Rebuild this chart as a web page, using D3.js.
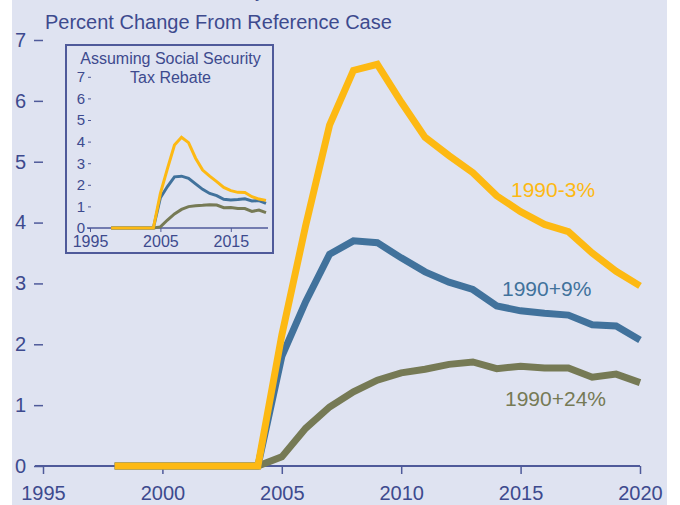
<!DOCTYPE html>
<html>
<head>
<meta charset="utf-8">
<script src="https://cdn.jsdelivr.net/npm/d3@7"></script>
<style>
  body { margin: 0; background: #ffffff; }
  svg { display: block; font-family: "Liberation Sans", Arial, sans-serif; }
</style>
</head>
<body>
<div id="chart"></div>
<script>
// years and values
const years = [1998, 1999, 2000, 2001, 2002, 2003, 2004, 2005, 2006, 2007, 2008, 2009,
  2010, 2011, 2012, 2013, 2014, 2015, 2016, 2017, 2018, 2019, 2020]

const minus3 = [0, 0, 0, 0, 0, 0, 0, 2.15, 3.95, 5.6, 6.5, 6.6,
  5.98, 5.4, 5.1, 4.82, 4.44, 4.18, 3.97, 3.85, 3.5, 3.2, 2.96]
const plus9 = [0, 0, 0, 0, 0, 0, 0, 1.8, 2.7, 3.48, 3.7, 3.67,
  3.42, 3.19, 3.02, 2.9, 2.63, 2.55, 2.51, 2.48, 2.32, 2.3, 2.07]
const plus24 = [0, 0, 0, 0, 0, 0, 0, 0.15, 0.62, 0.97, 1.22, 1.41,
  1.53, 1.59, 1.67, 1.71, 1.6, 1.64, 1.61, 1.61, 1.46, 1.51, 1.37]

// inset: assuming social security tax rebate
const rebMinus3 = [0, 0, 0, 0, 0, 0, 0, 1.6, 2.75, 3.84, 4.2, 3.95,
  3.23, 2.68, 2.4, 2.15, 1.88, 1.73, 1.65, 1.64, 1.45, 1.34, 1.28]
const rebPlus9 = [0, 0, 0, 0, 0, 0, 0, 1.4, 1.92, 2.37, 2.4, 2.3,
  2.04, 1.79, 1.6, 1.5, 1.33, 1.3, 1.32, 1.35, 1.25, 1.27, 1.14]
const rebPlus24 = [0, 0, 0, 0, 0, 0, 0, 0.05, 0.37, 0.65, 0.86, 0.99,
  1.03, 1.05, 1.08, 1.06, 0.94, 0.95, 0.9, 0.9, 0.77, 0.83, 0.71]

const seriesNames = ["1990+24%", "1990+9%", "1990-3%"]
const colors = {"1990-3%": "#fdb913", "1990+9%": "#41729c", "1990+24%": "#767a55"}
const yTicks = [0, 1, 2, 3, 4, 5, 6, 7]
const xTicks = [1995, 2000, 2005, 2010, 2015, 2020]
const insetXTicks = [1995, 2005, 2015]

const textColor = "#3d4a8e"
const axisColor = "#4f5a9a"

const width = 680, height = 505

const svg = d3.select("#chart")
    .append("svg")
    .attr("width", width)
    .attr("height", height)

svg.append("rect")
    .attr("x", 12).attr("y", 0)
    .attr("width", 655).attr("height", height)
    .attr("fill", "#dfe3f1")

// heading cut off at the very top, only a descender shows
svg.append("text")
    .attr("x", 265).attr("y", -3)
    .attr("text-anchor", "end")
    .attr("font-size", 20)
    .attr("fill", textColor)
    .text("Consumer Price Inflation Rate Sensitivity")

svg.append("text")
    .attr("x", 45).attr("y", 29)
    .attr("font-size", 20)
    .attr("fill", textColor)
    .text("Percent Change From Reference Case")

// main chart
let x = d3.scaleLinear().domain([1995, 2020]).range([43, 640])
let y = d3.scaleLinear().domain([0, 7]).range([466, 40])

let xAxis = svg.append("g")
    .attr("transform", "translate(0," + y(0) + ")")
    .call(d3.axisBottom(x).tickValues(xTicks).tickFormat(d3.format("d"))
        .tickSize(8).tickSizeOuter(0).tickPadding(12))
xAxis.select(".domain").attr("d", "M35,0H640").attr("stroke", axisColor).attr("stroke-width", 2)
xAxis.selectAll(".tick line").attr("stroke", axisColor).attr("stroke-width", 1.5)
xAxis.selectAll("text").attr("font-size", 20).attr("fill", textColor).attr("font-family", null)

let yAxis = svg.append("g")
    .attr("transform", "translate(43,0)")
    .call(d3.axisLeft(y).tickValues(yTicks).tickFormat(d3.format("d"))
        .tickSize(9).tickPadding(8))
yAxis.select(".domain").remove()
yAxis.selectAll(".tick line").attr("stroke", axisColor).attr("stroke-width", 1.5)
yAxis.selectAll("text").attr("font-size", 20).attr("fill", textColor).attr("font-family", null)

const mainData = {"1990-3%": minus3, "1990+9%": plus9, "1990+24%": plus24}

let line = d3.line()
    .x((d, i) => x(years[i]))
    .y(d => y(d))

svg.append("g")
    .selectAll("path")
    .data(seriesNames)
    .enter()
    .append("path")
    .attr("d", d => line(mainData[d]))
    .attr("fill", "none")
    .attr("stroke", d => colors[d])
    .attr("stroke-width", 7)
    .attr("stroke-linejoin", "miter")

// series labels
const labelPos = {"1990-3%": [511, 197], "1990+9%": [502, 296], "1990+24%": [505, 406]}
svg.append("g")
    .selectAll("text")
    .data(seriesNames)
    .enter()
    .append("text")
    .attr("x", d => labelPos[d][0])
    .attr("y", d => labelPos[d][1])
    .attr("font-size", 21)
    .attr("fill", d => colors[d])
    .text(d => d)

// inset chart
svg.append("rect")
    .attr("x", 66).attr("y", 45)
    .attr("width", 207).attr("height", 208)
    .attr("fill", "none")
    .attr("stroke", axisColor)
    .attr("stroke-width", 2)

svg.append("text")
    .attr("x", 170.5).attr("y", 64)
    .attr("text-anchor", "middle")
    .attr("font-size", 16)
    .attr("fill", textColor)
    .text("Assuming Social Security")
svg.append("text")
    .attr("x", 170.5).attr("y", 83)
    .attr("text-anchor", "middle")
    .attr("font-size", 16)
    .attr("fill", textColor)
    .text("Tax Rebate")

let ix = d3.scaleLinear().domain([1995, 2020]).range([90, 266])
let iy = d3.scaleLinear().domain([0, 7]).range([228, 76.8])

let ixAxis = svg.append("g")
    .attr("transform", "translate(0," + iy(0) + ")")
    .call(d3.axisBottom(ix).tickValues(insetXTicks).tickFormat(d3.format("d"))
        .tickSize(4).tickSizeOuter(0).tickPadding(4))
ixAxis.select(".domain").attr("d", "M87,0H268").attr("stroke", axisColor).attr("stroke-width", 1.5)
ixAxis.selectAll(".tick line").attr("stroke", axisColor)
ixAxis.selectAll("text").attr("font-size", 16).attr("fill", textColor).attr("font-family", null)

let iyAxis = svg.append("g")
    .attr("transform", "translate(91,0)")
    .call(d3.axisLeft(iy).tickValues(yTicks).tickFormat(d3.format("d"))
        .tickSize(3).tickPadding(3))
iyAxis.select(".domain").remove()
iyAxis.selectAll(".tick line").attr("stroke", axisColor)
iyAxis.selectAll("text").attr("font-size", 15).attr("fill", textColor).attr("font-family", null)

const insetData = {"1990-3%": rebMinus3, "1990+9%": rebPlus9, "1990+24%": rebPlus24}

let iline = d3.line()
    .x((d, i) => ix(years[i]))
    .y(d => iy(d))

svg.append("g")
    .selectAll("path")
    .data(seriesNames)
    .enter()
    .append("path")
    .attr("d", d => iline(insetData[d]))
    .attr("fill", "none")
    .attr("stroke", d => colors[d])
    .attr("stroke-width", 3)
</script>
</body>
</html>
